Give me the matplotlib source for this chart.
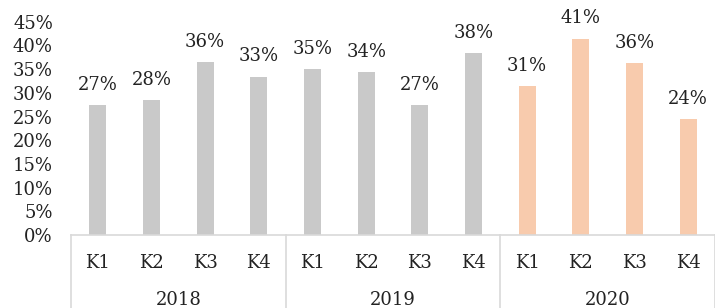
import matplotlib
matplotlib.use("Agg")
from matplotlib import pyplot as plt
import numpy as np

# data
years = ["2018", "2019", "2020"]
quarters = ["K1", "K2", "K3", "K4"]
values = [27.4, 28.4, 36.4, 33.4,
          35.0, 34.3, 27.4, 38.4,
          31.4, 41.4, 36.3, 24.4]
yticks = [0, 5, 10, 15, 20, 25, 30, 35, 40, 45]

grey = "#c9c9c9"
orange = "#f8cbad"
linec = "#d9d9d9"

plt.rcParams["font.family"] = ["DejaVu Serif"]
fs = 13

fig = plt.figure(figsize=(7.15, 3.08), dpi=100)
ax = fig.add_axes([71/715, 73/308, 644/715, 213.3/308])

x = np.arange(len(values))
colors = [grey]*8 + [orange]*4
ax.bar(x, values, width=0.32, color=colors)

for xi, v in zip(x, values):
    ax.text(xi, v + 2.4, "{}%".format(int(round(v))), ha="center", va="bottom",
            fontsize=fs, color="#222222", clip_on=False)

ax.set_xlim(-0.5, len(values) - 0.5)
ax.set_ylim(0, 45)
ax.set_yticks(yticks)
ax.set_yticklabels(["{}%".format(t) for t in yticks], fontsize=fs, color="#222222")
ax.tick_params(axis="y", length=0, pad=13)

ax.set_xticks(x)
ax.set_xticklabels(quarters * len(years), fontsize=fs, color="#222222")
ax.tick_params(axis="x", length=0, pad=14)

for s in ["top", "left", "right"]:
    ax.spines[s].set_visible(False)
ax.spines["bottom"].set_color(linec)
ax.spines["bottom"].set_linewidth(1.2)

# year group labels and separators
tr = ax.get_xaxis_transform()
for i, yr in enumerate(years):
    ax.text(i*4 + 1.5, -0.305, yr, transform=tr, ha="center", va="center",
            fontsize=fs, color="#222222", clip_on=False)
for sx in [-0.5, 3.5, 7.5, 11.5]:
    ax.plot([sx, sx], [0, -0.4], transform=tr, color=linec, lw=1.2, clip_on=False)

plt.savefig("out.png", dpi=100)
